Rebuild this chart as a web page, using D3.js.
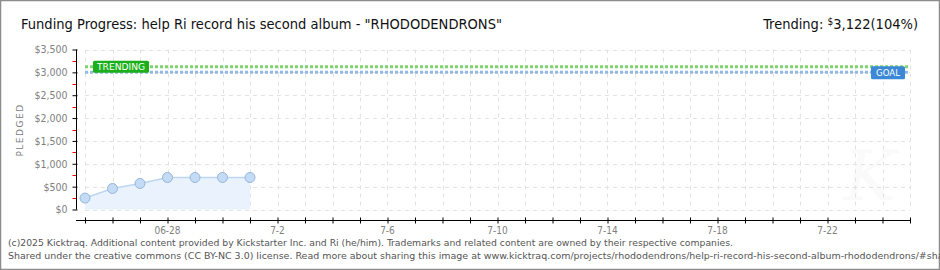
<!DOCTYPE html>
<meta charset="utf-8">
<head>
  <title>Funding Progress</title>
  <style>
    body { margin: 0; background: #fff; }
    text { font-family: "DejaVu Sans", sans-serif; }
  </style>
</head>
<script src="https://d3js.org/d3.v7.min.js"></script>
<div id="my_dataviz"></div>
<script>

// data
var dates = ["2025-06-25", "2025-06-26", "2025-06-27", "2025-06-28", "2025-06-29", "2025-06-30", "2025-07-01"];
var pledged = [250, 460, 570, 700, 700, 700, 700];
var goal = 3000;
var trending = 3122;
var yTicks = [0, 500, 1000, 1500, 2000, 2500, 3000, 3500];
var xLabelDates = ["2025-06-28", "2025-07-02", "2025-07-06", "2025-07-10", "2025-07-14", "2025-07-18", "2025-07-22"];
var xLabels = ["06-28", "7-2", "7-6", "7-10", "7-14", "7-18", "7-22"];
var domainDates = ["2025-06-25", "2025-07-25"];

var W = 940, H = 270;
var parse = d3.utcParse("%Y-%m-%d");
var condensed = "'DejaVu Sans Condensed', 'Liberation Sans Narrow', 'DejaVu Sans', sans-serif";

var svg = d3.select("#my_dataviz")
  .append("svg")
    .attr("width", W)
    .attr("height", H);

// outer frame
svg.append("rect")
  .attr("x", 0.5).attr("y", 0.5)
  .attr("width", W - 1).attr("height", H - 1)
  .attr("fill", "#fff")
  .attr("stroke", "#8c8c8c")
  .attr("stroke-width", 1.5);

var x = d3.scaleUtc()
  .domain(domainDates.map(parse))
  .range([85, 910]);

var y = d3.scaleLinear()
  .domain([0, 3500])
  .range([209.5, 49.5]);

var days = d3.utcDay.range(parse(domainDates[0]), d3.utcDay.offset(parse(domainDates[1]), 1));

// watermark
svg.append("text")
  .attr("x", 870).attr("y", 200)
  .attr("text-anchor", "middle")
  .style("font-family", "DejaVu Serif")
  .style("font-style", "italic")
  .style("font-size", "70px")
  .attr("fill", "#fafafa")
  .text("K");

// grid
svg.append("g")
  .selectAll("line")
  .data(days)
  .enter().append("line")
    .attr("x1", function(d) { return Math.round(x(d)) + 0.5; })
    .attr("x2", function(d) { return Math.round(x(d)) + 0.5; })
    .attr("y1", y(3500)).attr("y2", y(0))
    .attr("stroke", "#e2e2e2")
    .attr("stroke-dasharray", "4,4");

svg.append("g")
  .selectAll("line")
  .data(yTicks)
  .enter().append("line")
    .attr("x1", x(parse(domainDates[0]))).attr("x2", x(parse(domainDates[1])))
    .attr("y1", function(d) { return Math.round(y(d)) + 0.5; })
    .attr("y2", function(d) { return Math.round(y(d)) + 0.5; })
    .attr("stroke", "#e2e2e2")
    .attr("stroke-dasharray", "4,4");

// area + line
var pts = dates.map(function(d, i) { return {date: parse(d), value: pledged[i]}; });

svg.append("path")
  .datum(pts)
  .attr("fill", "#eaf3fd")
  .attr("d", d3.area()
    .x(function(d) { return x(d.date); })
    .y0(y(0))
    .y1(function(d) { return y(d.value); }));

svg.append("path")
  .datum(pts)
  .attr("fill", "none")
  .attr("stroke", "#bcd6f2")
  .attr("stroke-width", 1.5)
  .attr("d", d3.line()
    .x(function(d) { return x(d.date); })
    .y(function(d) { return y(d.value); }));

svg.append("g")
  .selectAll("circle")
  .data(pts)
  .enter().append("circle")
    .attr("cx", function(d) { return x(d.date); })
    .attr("cy", function(d) { return y(d.value); })
    .attr("r", 5)
    .attr("fill", "#c4dbf5")
    .attr("stroke", "#95b5da")
    .attr("stroke-width", 1);

// trending and goal lines
svg.append("line")
  .attr("x1", x(parse(domainDates[0]))).attr("x2", x(parse(domainDates[1])))
  .attr("y1", y(trending)).attr("y2", y(trending))
  .attr("stroke", "#7ed46e")
  .attr("stroke-width", 3)
  .attr("stroke-dasharray", "3,2");

svg.append("line")
  .attr("x1", x(parse(domainDates[0]))).attr("x2", x(parse(domainDates[1])))
  .attr("y1", y(goal)).attr("y2", y(goal))
  .attr("stroke", "#92b9e3")
  .attr("stroke-width", 3)
  .attr("stroke-dasharray", "3,2");

// labels on the lines
svg.append("rect")
  .attr("x", x(parse(domainDates[0])) + 8).attr("y", y(trending) - 6)
  .attr("width", 56).attr("height", 12)
  .attr("rx", 1.5)
  .attr("fill", "#1bb01b");
svg.append("text")
  .attr("x", x(parse(domainDates[0])) + 36).attr("y", y(trending) + 3.5)
  .attr("text-anchor", "middle")
  .attr("fill", "#fff")
  .attr("textLength", 48)
  .attr("lengthAdjust", "spacingAndGlyphs")
  .style("font-size", "9px")
  .text("TRENDING");

svg.append("rect")
  .attr("x", x(parse(domainDates[1])) - 39).attr("y", y(goal) - 6)
  .attr("width", 34).attr("height", 13)
  .attr("rx", 1.5)
  .attr("fill", "#3b88d6");
svg.append("text")
  .attr("x", x(parse(domainDates[1])) - 22).attr("y", y(goal) + 4)
  .attr("text-anchor", "middle")
  .attr("fill", "#fff")
  .attr("textLength", 24)
  .attr("lengthAdjust", "spacingAndGlyphs")
  .style("font-size", "9px")
  .text("GOAL");

// y axis
var yAxis = svg.append("g")
  .attr("transform", "translate(76.5,0)")
  .call(d3.axisLeft(y).tickValues(yTicks).tickSize(4).tickPadding(5)
    .tickFormat(function(d) { return "$" + d3.format(",")(d); }));
yAxis.select(".domain").attr("stroke", "#000").attr("d", "M0," + y(3500) + "V" + y(0));
yAxis.selectAll(".tick line").attr("x2", -4).attr("x1", 1).attr("stroke", "#000");
yAxis.selectAll(".tick text")
  .attr("fill", "#808080")
  .style("font-size", "10.5px")
  .style("font-family", condensed);

// red minor ticks
svg.append("g")
  .selectAll("line")
  .data(yTicks.slice(0, -1))
  .enter().append("line")
    .attr("x1", 72.5).attr("x2", 76)
    .attr("y1", function(d) { return Math.round(y(d + 250)) + 0.5; })
    .attr("y2", function(d) { return Math.round(y(d + 250)) + 0.5; })
    .attr("stroke", "#ff0000");

// x axis
var xAxis = svg.append("g")
  .attr("transform", "translate(0,220.5)")
  .call(d3.axisBottom(x).tickValues(days).tickSize(3).tickFormat(""));
xAxis.select(".domain").attr("stroke", "#000").attr("d", "M76," + 0 + "H" + x(parse(domainDates[1])));
xAxis.selectAll(".tick line").attr("y1", -3).attr("y2", 3).attr("stroke", "#000");

svg.append("g")
  .selectAll("text")
  .data(xLabelDates)
  .enter().append("text")
    .attr("x", function(d) { return x(parse(d)); })
    .attr("y", 234)
    .attr("text-anchor", "middle")
    .attr("fill", "#808080")
    .style("font-size", "10px")
    .style("font-family", condensed)
    .text(function(d, i) { return xLabels[i]; });

// y title
svg.append("text")
  .attr("transform", "translate(23,130) rotate(-90)")
  .attr("text-anchor", "middle")
  .attr("fill", "#808080")
  .style("font-size", "9px")
  .style("letter-spacing", "1.5px")
  .text("PLEDGED");

// title
svg.append("text")
  .attr("x", 21).attr("y", 29)
  .attr("fill", "#111")
  .attr("textLength", 481)
  .attr("lengthAdjust", "spacingAndGlyphs")
  .style("font-size", "14.5px")
  .style("font-family", condensed)
  .text("Funding Progress: help Ri record his second album - \"RHODODENDRONS\"");

var tr = svg.append("text")
  .attr("x", 918).attr("y", 29)
  .attr("text-anchor", "end")
  .attr("fill", "#111")
  .style("font-size", "14.5px")
  .style("font-family", condensed);
tr.append("tspan").text("Trending: ");
tr.append("tspan").style("font-size", "10px").attr("dy", -4).text("$");
tr.append("tspan").attr("dy", 4).text(d3.format(",")(trending) + "(" + Math.round(trending / goal * 100) + "%)");

// footer
svg.append("text")
  .attr("x", 8).attr("y", 246)
  .attr("fill", "#555")
  .attr("textLength", 725)
  .attr("lengthAdjust", "spacingAndGlyphs")
  .style("font-size", "9.5px")
  .style("font-family", condensed)
  .text("(c)2025 Kicktraq. Additional content provided by Kickstarter Inc. and Ri (he/him). Trademarks and related content are owned by their respective companies.");

svg.append("text")
  .attr("x", 8).attr("y", 259)
  .attr("fill", "#555")
  .attr("textLength", 945)
  .attr("lengthAdjust", "spacingAndGlyphs")
  .style("font-size", "9.5px")
  .style("font-family", condensed)
  .text("Shared under the creative commons (CC BY-NC 3.0) license. Read more about sharing this image at www.kicktraq.com/projects/rhododendrons/help-ri-record-his-second-album-rhododendrons/#share");

</script>
